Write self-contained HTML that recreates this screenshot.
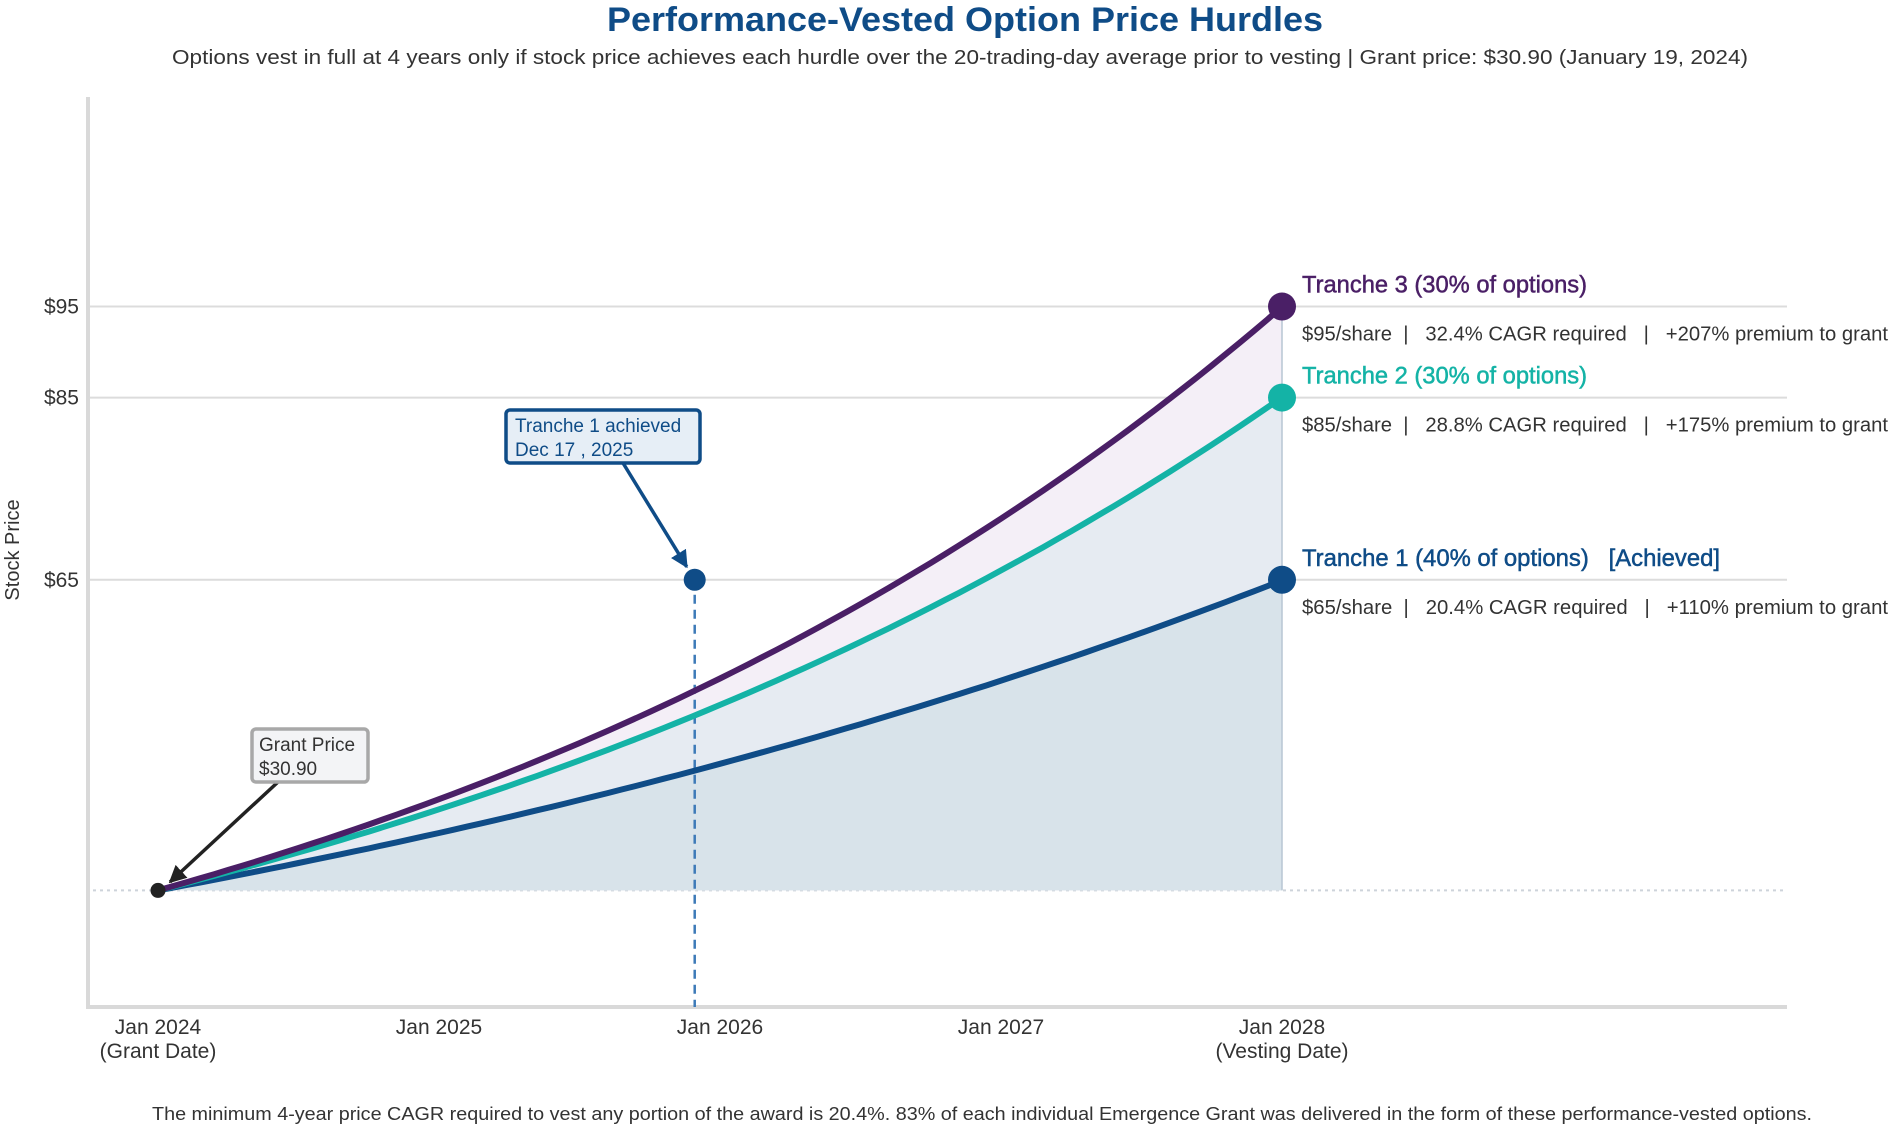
<!DOCTYPE html>
<html><head><meta charset="utf-8"><style>
html,body{margin:0;padding:0;background:#fff;}
svg{display:block;font-family:"Liberation Sans Narrow","Liberation Sans",sans-serif;}
</style></head><body>
<svg id="chart" width="1896" height="1126" viewBox="0 0 1896 1126" xmlns="http://www.w3.org/2000/svg">
<text x="965" y="31" text-anchor="middle" font-size="34" font-weight="bold" fill="#0f4c87" textLength="716" lengthAdjust="spacingAndGlyphs">Performance-Vested Option Price Hurdles</text>
<text x="960" y="64" text-anchor="middle" font-size="20" fill="#333" textLength="1576" lengthAdjust="spacingAndGlyphs">Options vest in full at 4 years only if stock price achieves each hurdle over the 20-trading-day average prior to vesting | Grant price: $30.90 (January 19, 2024)</text>
<g id="plot"></g>
<text transform="translate(19,550) rotate(-90)" text-anchor="middle" font-size="20" fill="#333">Stock Price</text>
<text x="982" y="1120" text-anchor="middle" font-size="18" fill="#333" textLength="1660" lengthAdjust="spacingAndGlyphs">The minimum 4-year price CAGR required to vest any portion of the award is 20.4%. 83% of each individual Emergence Grant was delivered in the form of these performance-vested options.</text>
</svg>
<script>
const grantPrice = 30.9;
const tranches = ['Tranche 1','Tranche 2','Tranche 3'];
const targets = [65, 85, 95];
const cagrs = [20.4, 28.8, 32.4];
const premiums = [110, 175, 207];
const shares = [40, 30, 30];
const yTicks = [65, 85, 95];
const xTickYears = [0,1,2,3,4];
const xTickLabels = ['Jan 2024','Jan 2025','Jan 2026','Jan 2027','Jan 2028'];
const xTickSub = ['(Grant Date)','','','','(Vesting Date)'];
const achievedYear = 1.91;

const NS='http://www.w3.org/2000/svg';
const X0=88,X1=1787,Y0=97,Y1=1007;
const yMin=18.1,yMax=118;
const xs=t=>158+t*281;
const ys=v=>Y1-(v-yMin)/(yMax-yMin)*(Y1-Y0);
const colors=['#0f4c87','#14b3a6','#4a1f66'];
const fills=['#d8e3ea','#e6ebf2','#f4eff7'];
const plot=document.getElementById('plot');
function mk(tag,attrs,parent){const e=document.createElementNS(NS,tag);for(const k in attrs)e.setAttribute(k,attrs[k]);(parent||plot).appendChild(e);return e;}
function txt(s,attrs){const e=mk('text',attrs);e.textContent=s;return e;}
function curve(i){const r=cagrs[i]/100;const pts=[];for(let k=0;k<=80;k++){const t=4*k/80;pts.push([xs(t),ys(grantPrice*Math.pow(1+r,t))]);}pts[pts.length-1][1]=ys(targets[i]);return pts;}

yTicks.forEach(v=>{
  const g=mk('line',{x1:X0,x2:X1,y1:ys(v),y2:ys(v),stroke:'#dcdcdc','stroke-width':2});
  
  
  const t=txt('$'+v,{x:79,y:ys(v)+7,'text-anchor':'end','font-size':21,fill:'#333'});
  
  
});
const bl=mk('line',{x1:X0+5,x2:X1,y1:ys(grantPrice),y2:ys(grantPrice),stroke:'#cdd3da','stroke-width':2,'stroke-dasharray':'3,4'});


[2,1,0].forEach(i=>{
  const p=curve(i);let d='M'+p.map(q=>q[0].toFixed(1)+','+q[1].toFixed(1)).join('L');
  d+='L'+xs(4)+','+ys(grantPrice)+'L'+xs(0)+','+ys(grantPrice)+'Z';
  const a=mk('path',{d:d,fill:fills[i]});
  
  
});
const vl=mk('line',{x1:xs(4),x2:xs(4),y1:ys(targets[2]),y2:ys(grantPrice),stroke:'#b7c6d3','stroke-width':1.5});


const ya=mk('line',{x1:X0,x2:X0,y1:Y0,y2:Y1,stroke:'#d9d9d9','stroke-width':4});


const xa=mk('line',{x1:X0-2,x2:X1,y1:Y1,y2:Y1,stroke:'#d9d9d9','stroke-width':4});


const dl=mk('line',{x1:xs(achievedYear),x2:xs(achievedYear),y1:ys(targets[0]),y2:Y1,stroke:'#3d7ab8','stroke-width':2.5,'stroke-dasharray':'9,6'});


const titleLens=[418,285,285];
[0,1,2].forEach(i=>{
  const p=curve(i);
  const l=mk('path',{d:'M'+p.map(q=>q[0].toFixed(1)+','+q[1].toFixed(1)).join('L'),fill:'none',stroke:colors[i],'stroke-width':6,'stroke-linecap':'round'});
  
  
  const c=mk('circle',{cx:xs(4),cy:ys(targets[i]),r:14,fill:colors[i]});
  
  
  const lx=1302,ly=ys(targets[i]);
  const t1=txt(tranches[i]+' ('+shares[i]+'% of options)'+(i===0?'   [Achieved]':''),{x:lx,y:ly-14,'font-size':24,fill:colors[i],textLength:titleLens[i],lengthAdjust:'spacingAndGlyphs','stroke':colors[i],'stroke-width':0.5});
  
  
  t1.setAttribute('style','white-space:pre');
  const t2=txt('$'+targets[i]+'/share  |   '+cagrs[i].toFixed(1)+'% CAGR required   |   +'+premiums[i]+'% premium to grant',{x:lx,y:ly+34,'font-size':20,fill:'#333',textLength:586,lengthAdjust:'spacingAndGlyphs'});
  
  
  t2.setAttribute('style','white-space:pre');
});
xTickYears.forEach((t,k)=>{
  const a=txt(xTickLabels[k],{x:xs(t),y:1034,'text-anchor':'middle','font-size':21,fill:'#333'});
  
  
  if(xTickSub[k]){const b=txt(xTickSub[k],{x:xs(t),y:1058,'text-anchor':'middle','font-size':21,fill:'#333'});
    
    }
});
const defs=mk('defs',{});
function arrowDef(id,col){const m=mk('marker',{id:id,viewBox:'0 0 10 10',refX:9,refY:5,markerWidth:5,markerHeight:5,orient:'auto'},defs);mk('path',{d:'M0,0L10,5L0,10Z',fill:col},m);}
arrowDef('arrNavy','#0f4c87');arrowDef('arrBlk','#222');
const ad=mk('circle',{cx:xs(achievedYear),cy:ys(targets[0]),r:11,fill:'#0f4c87'});


const aa=mk('line',{x1:623,y1:463,x2:xs(achievedYear)-8,y2:ys(targets[0])-13,stroke:'#0f4c87','stroke-width':3.5,'marker-end':'url(#arrNavy)'});


const ab=mk('rect',{x:506,y:410,width:194,height:53,rx:4,fill:'#e6eef6',stroke:'#0f4c87','stroke-width':3.5});


const at1=txt('Tranche 1 achieved',{x:515,y:432,'font-size':19,fill:'#0f4c87'});


const at2=txt('Dec 17 , 2025',{x:515,y:456,'font-size':19,fill:'#0f4c87'});


const ga=mk('line',{x1:278,y1:782,x2:170,y2:882,stroke:'#222','stroke-width':3.5,'marker-end':'url(#arrBlk)'});


const gd=mk('circle',{cx:xs(0),cy:ys(grantPrice),r:7.5,fill:'#222'});


const gb=mk('rect',{x:252,y:729,width:116,height:53,rx:4,fill:'#f3f4f6',stroke:'#a8a8a8','stroke-width':3.5});


const gt1=txt('Grant Price',{x:259,y:751,'font-size':19,fill:'#333'});


const gt2=txt('$30.90',{x:259,y:775,'font-size':19,fill:'#333'});


</script>
</body></html>
